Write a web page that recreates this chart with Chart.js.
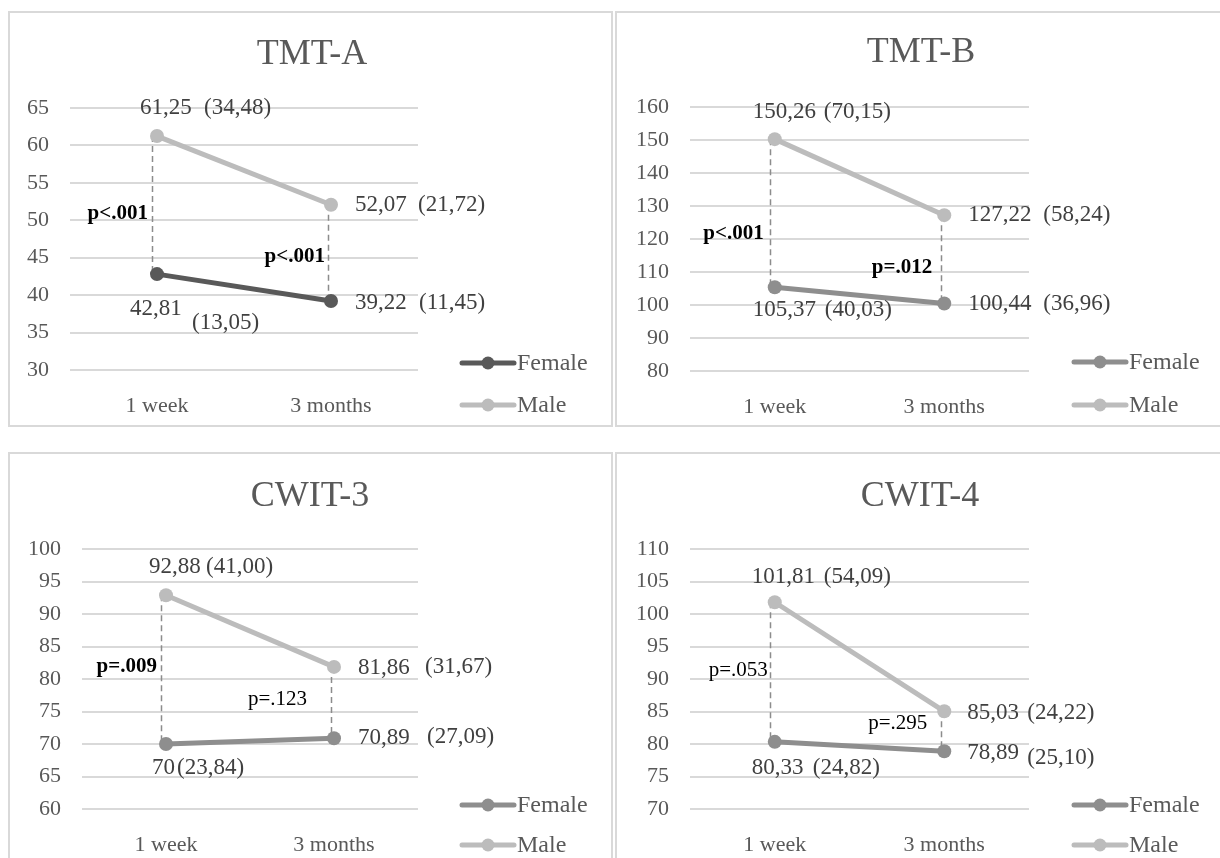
<!DOCTYPE html>
<html>
<head>
<meta charset="utf-8">
<script src="https://cdn.jsdelivr.net/npm/chart.js@4/dist/chart.umd.min.js"></script>
<style>
  html, body { margin: 0; padding: 0; background: #ffffff; overflow: hidden; }
  body { width: 1220px; height: 858px; position: relative; }
  .panel { position: absolute; box-sizing: border-box; border: 2px solid #d9d9d9; background: #ffffff; }
  canvas { position: absolute; }
</style>
</head>
<body>
<script>
// ---- data -------------------------------------------------------------
const categories = ['1 week', '3 months'];
const chartTitles = ['TMT-A', 'TMT-B', 'CWIT-3', 'CWIT-4'];
const seriesNames = ['Female', 'Male'];

// mean and (SD) per group at each time point
const tmtAFemale = [42.81, 39.22];
const tmtAMale = [61.25, 52.07];
const tmtAFemaleSD = [13.05, 11.45];
const tmtAMaleSD = [34.48, 21.72];
const tmtAP = ['p<.001', 'p<.001'];

const tmtBFemale = [105.37, 100.44];
const tmtBMale = [150.26, 127.22];
const tmtBFemaleSD = [40.03, 36.96];
const tmtBMaleSD = [70.15, 58.24];
const tmtBP = ['p<.001', 'p=.012'];

const cwit3Female = [70, 70.89];
const cwit3Male = [92.88, 81.86];
const cwit3FemaleSD = [23.84, 27.09];
const cwit3MaleSD = [41.00, 31.67];
const cwit3P = ['p=.009', 'p=.123'];

const cwit4Female = [80.33, 78.89];
const cwit4Male = [101.81, 85.03];
const cwit4FemaleSD = [24.82, 25.10];
const cwit4MaleSD = [54.09, 24.22];
const cwit4P = ['p=.053', 'p=.295'];

// y-axis ticks per panel
const yMin = [30, 80, 60, 70];
const yMax = [65, 160, 100, 110];
const yStep = [5, 10, 5, 5];

// ---- layout and styling ----------------------------------------------
const SERIF = '"Liberation Serif", "Times New Roman", serif';
const GREY_TEXT = '#595959';
const LABEL_TEXT = '#404040';
const MALE = '#bcbcbc';
const FEMALE_MID = '#8e8e8e';
const FEMALE_DARK = '#595959';

// offsets of the value labels: [meanDx, meanDy, sdDx, sdDy] per category
const panels = [
  { left: 8, top: 11, width: 605, height: 416, area: { l: 62, r: 410, t: 97, b: 359 },
    titleX: 304, titleY: 44, legend: { x: 452, y: [352, 394] }, female: FEMALE_DARK,
    maleLabel: [[-17, -28, 47, -28], [24, 0, 87, 0]],
    femaleLabel: [[-27, 35, 35, 49], [24, 2, 88, 2]],
    pPos: [[-9, 0.56], [-6, 0.54]] },
  { left: 615, top: 11, width: 607, height: 416, area: { l: 75, r: 414, t: 96, b: 360 },
    titleX: 306, titleY: 42, legend: { x: 457, y: [351, 394] }, female: FEMALE_MID,
    maleLabel: [[-22, -27, 49, -27], [24, 0, 99, 0]],
    femaleLabel: [[-22, 23, 50, 23], [24, 0, 99, 0]],
    pPos: [[-11, 0.635], [-12, 0.59]] },
  { left: 8, top: 452, width: 605, height: 420, area: { l: 74, r: 410, t: 97, b: 357 },
    titleX: 302, titleY: 45, legend: { x: 452, y: [353, 393] }, female: FEMALE_MID,
    maleLabel: [[-17, -28, 40, -28], [24, 1, 91, 0]],
    femaleLabel: [[-14, 24, 11, 24], [24, 0, 93, -1]],
    pPos: [[-9, 0.48], [-27, 0.46]] },
  { left: 615, top: 452, width: 607, height: 420, area: { l: 75, r: 414, t: 97, b: 357 },
    titleX: 305, titleY: 45, legend: { x: 457, y: [353, 393] }, female: FEMALE_MID,
    maleLabel: [[-23, -25, 49, -25], [23, 2, 83, 2]],
    femaleLabel: [[-23, 26, 38, 26], [23, 2, 83, 7]],
    pPos: [[-7, 0.49], [-17, 0.3]] }
];
const connectorDx = [-5, -3];

const fmtMean = v => Number.isInteger(v) ? String(v) : v.toFixed(2).replace('.', ',');
const fmtSD = v => '(' + v.toFixed(2).replace('.', ',') + ')';
const isSignificant = p => parseFloat(p.replace(/^p[<=]/, '0')) < 0.05;

function makeChart(i, female, male, femaleSD, maleSD, pLabels) {
  const P = panels[i];
  const box = document.createElement('div');
  box.className = 'panel';
  Object.assign(box.style, { left: P.left + 'px', top: P.top + 'px', width: P.width + 'px', height: P.height + 'px' });
  document.body.appendChild(box);

  const canvas = document.createElement('canvas');
  canvas.width = P.width;
  canvas.height = P.height;
  Object.assign(canvas.style, { left: P.left + 'px', top: P.top + 'px', width: P.width + 'px', height: P.height + 'px' });
  document.body.appendChild(canvas);

  const notes = {
    id: 'notes' + i,
    beforeDatasetsDraw(chart) {
      // dashed connector between the two groups at each time point
      const { ctx } = chart;
      const xs = chart.scales.x, ys = chart.scales.y;
      ctx.save();
      ctx.setLineDash([6, 4]);
      ctx.strokeStyle = '#8c8c8c';
      ctx.lineWidth = 1.5;
      categories.forEach((c, k) => {
        const px = Math.round(xs.getPixelForValue(k) + connectorDx[k]) + 0.5;
        ctx.beginPath();
        ctx.moveTo(px, ys.getPixelForValue(male[k]));
        ctx.lineTo(px, ys.getPixelForValue(female[k]));
        ctx.stroke();
      });
      ctx.restore();
    },
    afterDatasetsDraw(chart) {
      const { ctx } = chart;
      const xs = chart.scales.x, ys = chart.scales.y;
      ctx.save();
      ctx.textBaseline = 'middle';
      ctx.textAlign = 'left';
      ctx.fillStyle = LABEL_TEXT;
      ctx.font = '23px ' + SERIF;
      const put = (vals, sds, offs) => {
        vals.forEach((v, k) => {
          const px = xs.getPixelForValue(k), py = ys.getPixelForValue(v);
          const o = offs[k];
          ctx.fillText(fmtMean(v), px + o[0], py + o[1]);
          ctx.fillText(fmtSD(sds[k]), px + o[2], py + o[3]);
        });
      };
      put(male, maleSD, P.maleLabel);
      put(female, femaleSD, P.femaleLabel);
      // group comparison p-values
      ctx.textAlign = 'right';
      ctx.fillStyle = '#000000';
      pLabels.forEach((p, k) => {
        const px = xs.getPixelForValue(k) + P.pPos[k][0];
        const yM = ys.getPixelForValue(male[k]), yF = ys.getPixelForValue(female[k]);
        ctx.font = (isSignificant(p) ? 'bold ' : '') + '21px ' + SERIF;
        ctx.fillText(p, px, yM + (yF - yM) * P.pPos[k][1]);
      });
      ctx.restore();
    },
    afterDraw(chart) {
      const { ctx } = chart;
      ctx.save();
      // title
      ctx.fillStyle = GREY_TEXT;
      ctx.font = '36px ' + SERIF;
      ctx.textAlign = 'center';
      ctx.textBaseline = 'middle';
      ctx.fillText(chartTitles[i], P.titleX, P.titleY);
      // legend
      ctx.textAlign = 'left';
      ctx.font = '24px ' + SERIF;
      chart.data.datasets.forEach((ds, k) => {
        const y = P.legend.y[k], x = P.legend.x;
        ctx.strokeStyle = ds.borderColor;
        ctx.lineWidth = 5;
        ctx.lineCap = 'round';
        ctx.beginPath();
        ctx.moveTo(x + 2, y);
        ctx.lineTo(x + 54, y);
        ctx.stroke();
        ctx.fillStyle = ds.borderColor;
        ctx.beginPath();
        ctx.arc(x + 28, y, 6.5, 0, Math.PI * 2);
        ctx.fill();
        ctx.fillStyle = GREY_TEXT;
        ctx.fillText(ds.label, x + 57, y + 1);
      });
      ctx.restore();
    }
  };

  const series = (label, data, color) => ({
    label, data,
    borderColor: color, backgroundColor: color,
    borderWidth: 5, tension: 0,
    pointRadius: 7, pointHoverRadius: 7, pointBorderWidth: 0,
    pointBackgroundColor: color
  });

  return new Chart(canvas, {
    type: 'line',
    data: {
      labels: categories,
      datasets: [series(seriesNames[0], female, P.female), series(seriesNames[1], male, MALE)]
    },
    options: {
      responsive: false,
      animation: false,
      devicePixelRatio: 1,
      events: [],
      layout: { padding: { left: 0, top: P.area.t, right: P.width - P.area.r, bottom: P.height - P.area.b - 50 } },
      plugins: { legend: { display: false }, title: { display: false }, tooltip: { enabled: false } },
      scales: {
        x: {
          offset: true,
          grid: { display: false },
          border: { display: false },
          ticks: { color: GREY_TEXT, font: { family: SERIF, size: 22 }, padding: 15, maxRotation: 0, autoSkip: false },
          afterFit: s => { s.height = 50; }
        },
        y: {
          min: yMin[i], max: yMax[i],
          grid: { color: '#d9d9d9', lineWidth: 2, drawTicks: false },
          border: { display: false },
          ticks: { stepSize: yStep[i], color: GREY_TEXT, font: { family: SERIF, size: 22 }, padding: 21 },
          afterFit: s => { s.width = P.area.l; }
        }
      }
    },
    plugins: [notes]
  });
}

makeChart(0, tmtAFemale, tmtAMale, tmtAFemaleSD, tmtAMaleSD, tmtAP);
makeChart(1, tmtBFemale, tmtBMale, tmtBFemaleSD, tmtBMaleSD, tmtBP);
makeChart(2, cwit3Female, cwit3Male, cwit3FemaleSD, cwit3MaleSD, cwit3P);
makeChart(3, cwit4Female, cwit4Male, cwit4FemaleSD, cwit4MaleSD, cwit4P);
</script>
</body>
</html>
